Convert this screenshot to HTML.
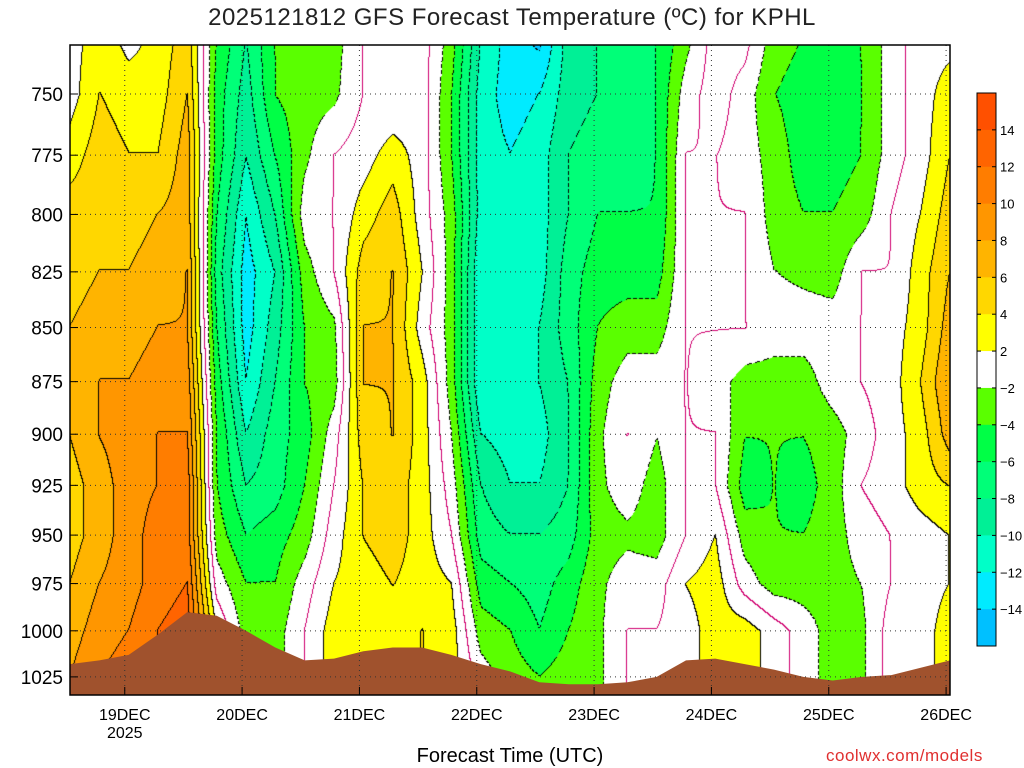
<!DOCTYPE html>
<html><head><meta charset="utf-8">
<style>
body{margin:0;background:#fff;width:1024px;height:768px;overflow:hidden;position:relative;font-family:"Liberation Sans",sans-serif}
#cv{position:absolute;left:70px;top:45px}
svg{position:absolute;left:0;top:0}
</style></head><body>
<canvas id="cv" width="880" height="650"></canvas>
<svg id="sv" width="1024" height="768"></svg>
<script>
// data
const levels=[725,750,775,800,825,850,875,900,925,950,975,1000,1025];
const hours=[0,6,12,18,24,30,36,42,48,54,60,66,72,78,84,90,96,102,108,114,120,126,132,138,144,150,156,162,168,174,180];
const temps=[
[1,1,3,5,5,6,6,6,5,5,6,7,8],
[3,4,5,5,6,7,8,8,7,7,8,9,10],
[1,3,4,5,6,7,8,9,9,9,9,10,11],
[2.5,3,4,6,7,8,9,10,10,11,11,12,12],
[5,6,7,7,8,8,9,10,11,11,12,13,13],
[-4,-5,-5,-6,-7,-6,-5,-4,-4,-3,-1,2,3],
[-8,-9,-10,-12,-13,-13,-12,-10,-8,-6,-4,-3,-3],
[-4,-4,-6,-8,-10,-9,-8,-7,-7,-5,-4,-3,-3],
[-3,-3,-2.5,-1,-3,-4,-4,-5,-4,-3,-1,0,0],
[-3,-2.5,0,0,0,-2.5,-3,-1,0,1,2,3,3],
[0,0,1,3,5,6,6,5,4,4,3,3,3],
[0,0,3,5,6,6,6,6,5,5,4,3,3],
[1,1,1,1,2,1,3,3,3,3,3,4,4],
[-3,-4,-4,-3,-3,-3,-3,-2,-1,0,2,3,3],
[-10,-11,-11,-11,-12,-12,-12,-10,-8,-7,-5,-3,-1],
[-13,-13,-12,-12,-12,-12,-12,-11,-10,-8,-6,-4,-3],
[-15,-12,-11,-11,-11,-10,-10,-11,-10,-8,-7,-6,-4],
[-9,-9,-8,-8,-7,-7,-8,-8,-8,-7,-5,-4,-3],
[-8,-8,-7,-6,-5,-4,-3,-2.5,-2.5,-3,-2.5,-2.5,-2.5],
[-7,-7,-7,-6,-5,-3,-1,0,-1,-2.5,-1,0,0],
[-6,-6,-6,-6,-5,-3,-1,-2,-3,-3,-1,0,0],
[-3,-1,0,0,0,0,0,0,0,0,2,1,1],
[1,1,0,0,0,0,-1,0,0,2,3,3,3],
[1,-1,-1,0,0,0,-3,-4,-5,-3,-1,3,3],
[-3,-4,-3,-3,-2,-1,-3,-4,-4,-4,-3,1,1],
[-4,-5,-5,-4,-2.5,-1,-3,-4,-5,-4,-3,-1,-1],
[-5,-6,-5,-4,-3,-1,-1,-3,-3,-3,-3,-3,-3],
[-4,-4,-4,-3,0,0,0,-1,0,-1,-2,-2.5,-2.5],
[-1,-1,-1,0,0,1,1,1,1,0,0,1,1],
[1,1,1,2,3,3,4,3,3,1,1,1,1],
[1,3,4,5,6,7,8,7,4,2,2,3,3]];
const psfc=[1018,1016,1013,1002,990,992,1000,1009,1016,1015,1011,1009,1009,1013,1018,1022,1028,1029,1029,1028,1025,1016,1015,1018,1021,1025,1027,1025,1024,1020,1016];
const yTicks=[750,775,800,825,850,875,900,925,950,975,1000,1025];
const dayLabels=["19DEC","20DEC","21DEC","22DEC","23DEC","24DEC","25DEC","26DEC"];
const dayHours=[11.2,35.2,59.2,83.2,107.2,131.2,155.2,179.2];
const cbLabels=[14,12,10,8,6,4,2,-2,-4,-6,-8,-10,-12,-14];
const binEdges=[-14,-12,-10,-8,-6,-4,-2,2,4,6,8,10,12,14];
const binColors=["#00c0ff","#00ebff","#00ffc8","#00f096","#00ff78","#00ff46","#5aff00","#ffffff","#ffff00","#ffd700","#ffb400","#ff9600","#ff7d00","#ff6400","#ff5000"];

// axes
const X0=70,X1=950,Y0=45,Y1=695;
const xS=h=>X0+h*(X1-X0)/180;
const yS=p=>94+(Math.log(p)-Math.log(750))*1866;
const pOfY=y=>750*Math.exp((y-94)/1866);
function binOf(t){let i=0;while(i<binEdges.length&&t>=binEdges[i])i++;return i;}
function interp(h,p){
  let i=Math.min(hours.length-2,Math.max(0,Math.floor(h/6)));let fx=(h-hours[i])/6;
  let j=0;while(j<levels.length-2&&levels[j+1]<p)j++;
  let fy=(p-levels[j])/(levels[j+1]-levels[j]);fx=Math.max(0,Math.min(1,fx));fy=Math.max(0,Math.min(1,fy));
  const a=temps[i][j],b=temps[i+1][j],c=temps[i][j+1],d=temps[i+1][j+1];
  return a*(1-fx)*(1-fy)+b*fx*(1-fy)+c*(1-fx)*fy+d*fx*fy+0.05;
}
function hex(c){return [parseInt(c.slice(1,3),16),parseInt(c.slice(3,5),16),parseInt(c.slice(5,7),16)];}
const rgb=binColors.map(hex);
const W=880,H=650;
const ctx=document.getElementById('cv').getContext('2d');
const img=ctx.createImageData(W,H);
const T=new Float32Array(W*H),B=new Int8Array(W*H);
for(let px=0;px<W;px++){const h=px*180/W;
  for(let py=0;py<H;py++){const t=interp(h,pOfY(py+Y0));T[py*W+px]=t;B[py*W+px]=binOf(t);}}
for(let py=0;py<H;py++)for(let px=0;px<W;px++){
  const k=py*W+px;let c=rgb[B[k]];
  const r=px<W-1?k+1:k,dn=py<H-1?k+W:k;
  const t=T[k];
  if((t<0)!==(T[r]<0)||(t<0)!==(T[dn]<0))c=[208,0,111];
  else if(B[k]!==B[r]||B[k]!==B[dn]){
    const neg=t<0; if(!neg||((px+py)%6<4))c=[0,0,0];}
  img.data[k*4]=c[0];img.data[k*4+1]=c[1];img.data[k*4+2]=c[2];img.data[k*4+3]=255;}
ctx.putImageData(img,0,0);
const NS="http://www.w3.org/2000/svg";const sv=document.getElementById('sv');
function mk(tag,at,txt){const e=document.createElementNS(NS,tag);for(const k in at)e.setAttribute(k,at[k]);if(txt!==undefined)e.textContent=txt;sv.appendChild(e);return e;}
// ground
let d=`M${X0},${Y1}`;psfc.forEach((p,i)=>{d+=` L${xS(hours[i]).toFixed(1)},${yS(p).toFixed(1)}`});d+=` L${X1},${Y1} Z`;
const g=mk('path',{d:d,fill:'#a0522d'});


// grid
yTicks.forEach(p=>{const y=yS(p);
  const l=mk('line',{x1:X0,x2:X1,y1:y,y2:y,stroke:'#333','stroke-dasharray':'1,4','stroke-width':1});
  
  
  mk('line',{x1:X0,x2:X0+8,y1:y,y2:y,stroke:'#000'});
  const t=mk('text',{x:63,y:y+7,'text-anchor':'end','font-size':19,fill:'#000'},String(p));
  
  
});
dayHours.forEach((h,i)=>{const x=xS(h);
  const l=mk('line',{x1:x,x2:x,y1:Y0,y2:Y1,stroke:'#333','stroke-dasharray':'1,4','stroke-width':1});
  
  
  mk('line',{x1:x,x2:x,y1:Y1,y2:Y1-8,stroke:'#000'});
  const t=mk('text',{x:x,y:720,'text-anchor':'middle','font-size':16,fill:'#000'},dayLabels[i]);
  
  
});
const yr=mk('text',{x:xS(dayHours[0]),y:738,'text-anchor':'middle','font-size':16},'2025');


const fr=mk('rect',{x:X0,y:Y0,width:X1-X0,height:Y1-Y0,fill:'none',stroke:'#000','stroke-width':1.5});


// colorbar
const cbTop=93,cbBot=646,bh=(cbBot-cbTop)/15;
for(let i=0;i<15;i++){const r=mk('rect',{x:977,y:cbTop+i*bh,width:19,height:bh+0.5,fill:binColors[14-i]});
  
  }
mk('rect',{x:977,y:cbTop,width:19,height:cbBot-cbTop,fill:'none',stroke:'#000'});
cbLabels.forEach((v,i)=>{const y=cbTop+(i+1)*bh;
  mk('line',{x1:977,x2:981,y1:y,y2:y,stroke:'#000'});mk('line',{x1:992,x2:996,y1:y,y2:y,stroke:'#000'});
  const t=mk('text',{x:1000,y:y+5,'font-size':13},v<0?'\u2212'+(-v):String(v));
  
  });
</script>
<div style="position:absolute;left:0;width:1024px;top:4px;text-align:center;font-size:24px;letter-spacing:0.5px;color:#222">2025121812 GFS Forecast Temperature (ºC) for KPHL</div>
<div style="position:absolute;left:0;width:1020px;top:745px;text-align:center;font-size:20px;color:#000">Forecast Time (UTC)</div>
<div style="position:absolute;left:826px;top:746px;font-size:17px;color:#e03030;letter-spacing:0.5px">coolwx.com/models</div>
</body></html>
